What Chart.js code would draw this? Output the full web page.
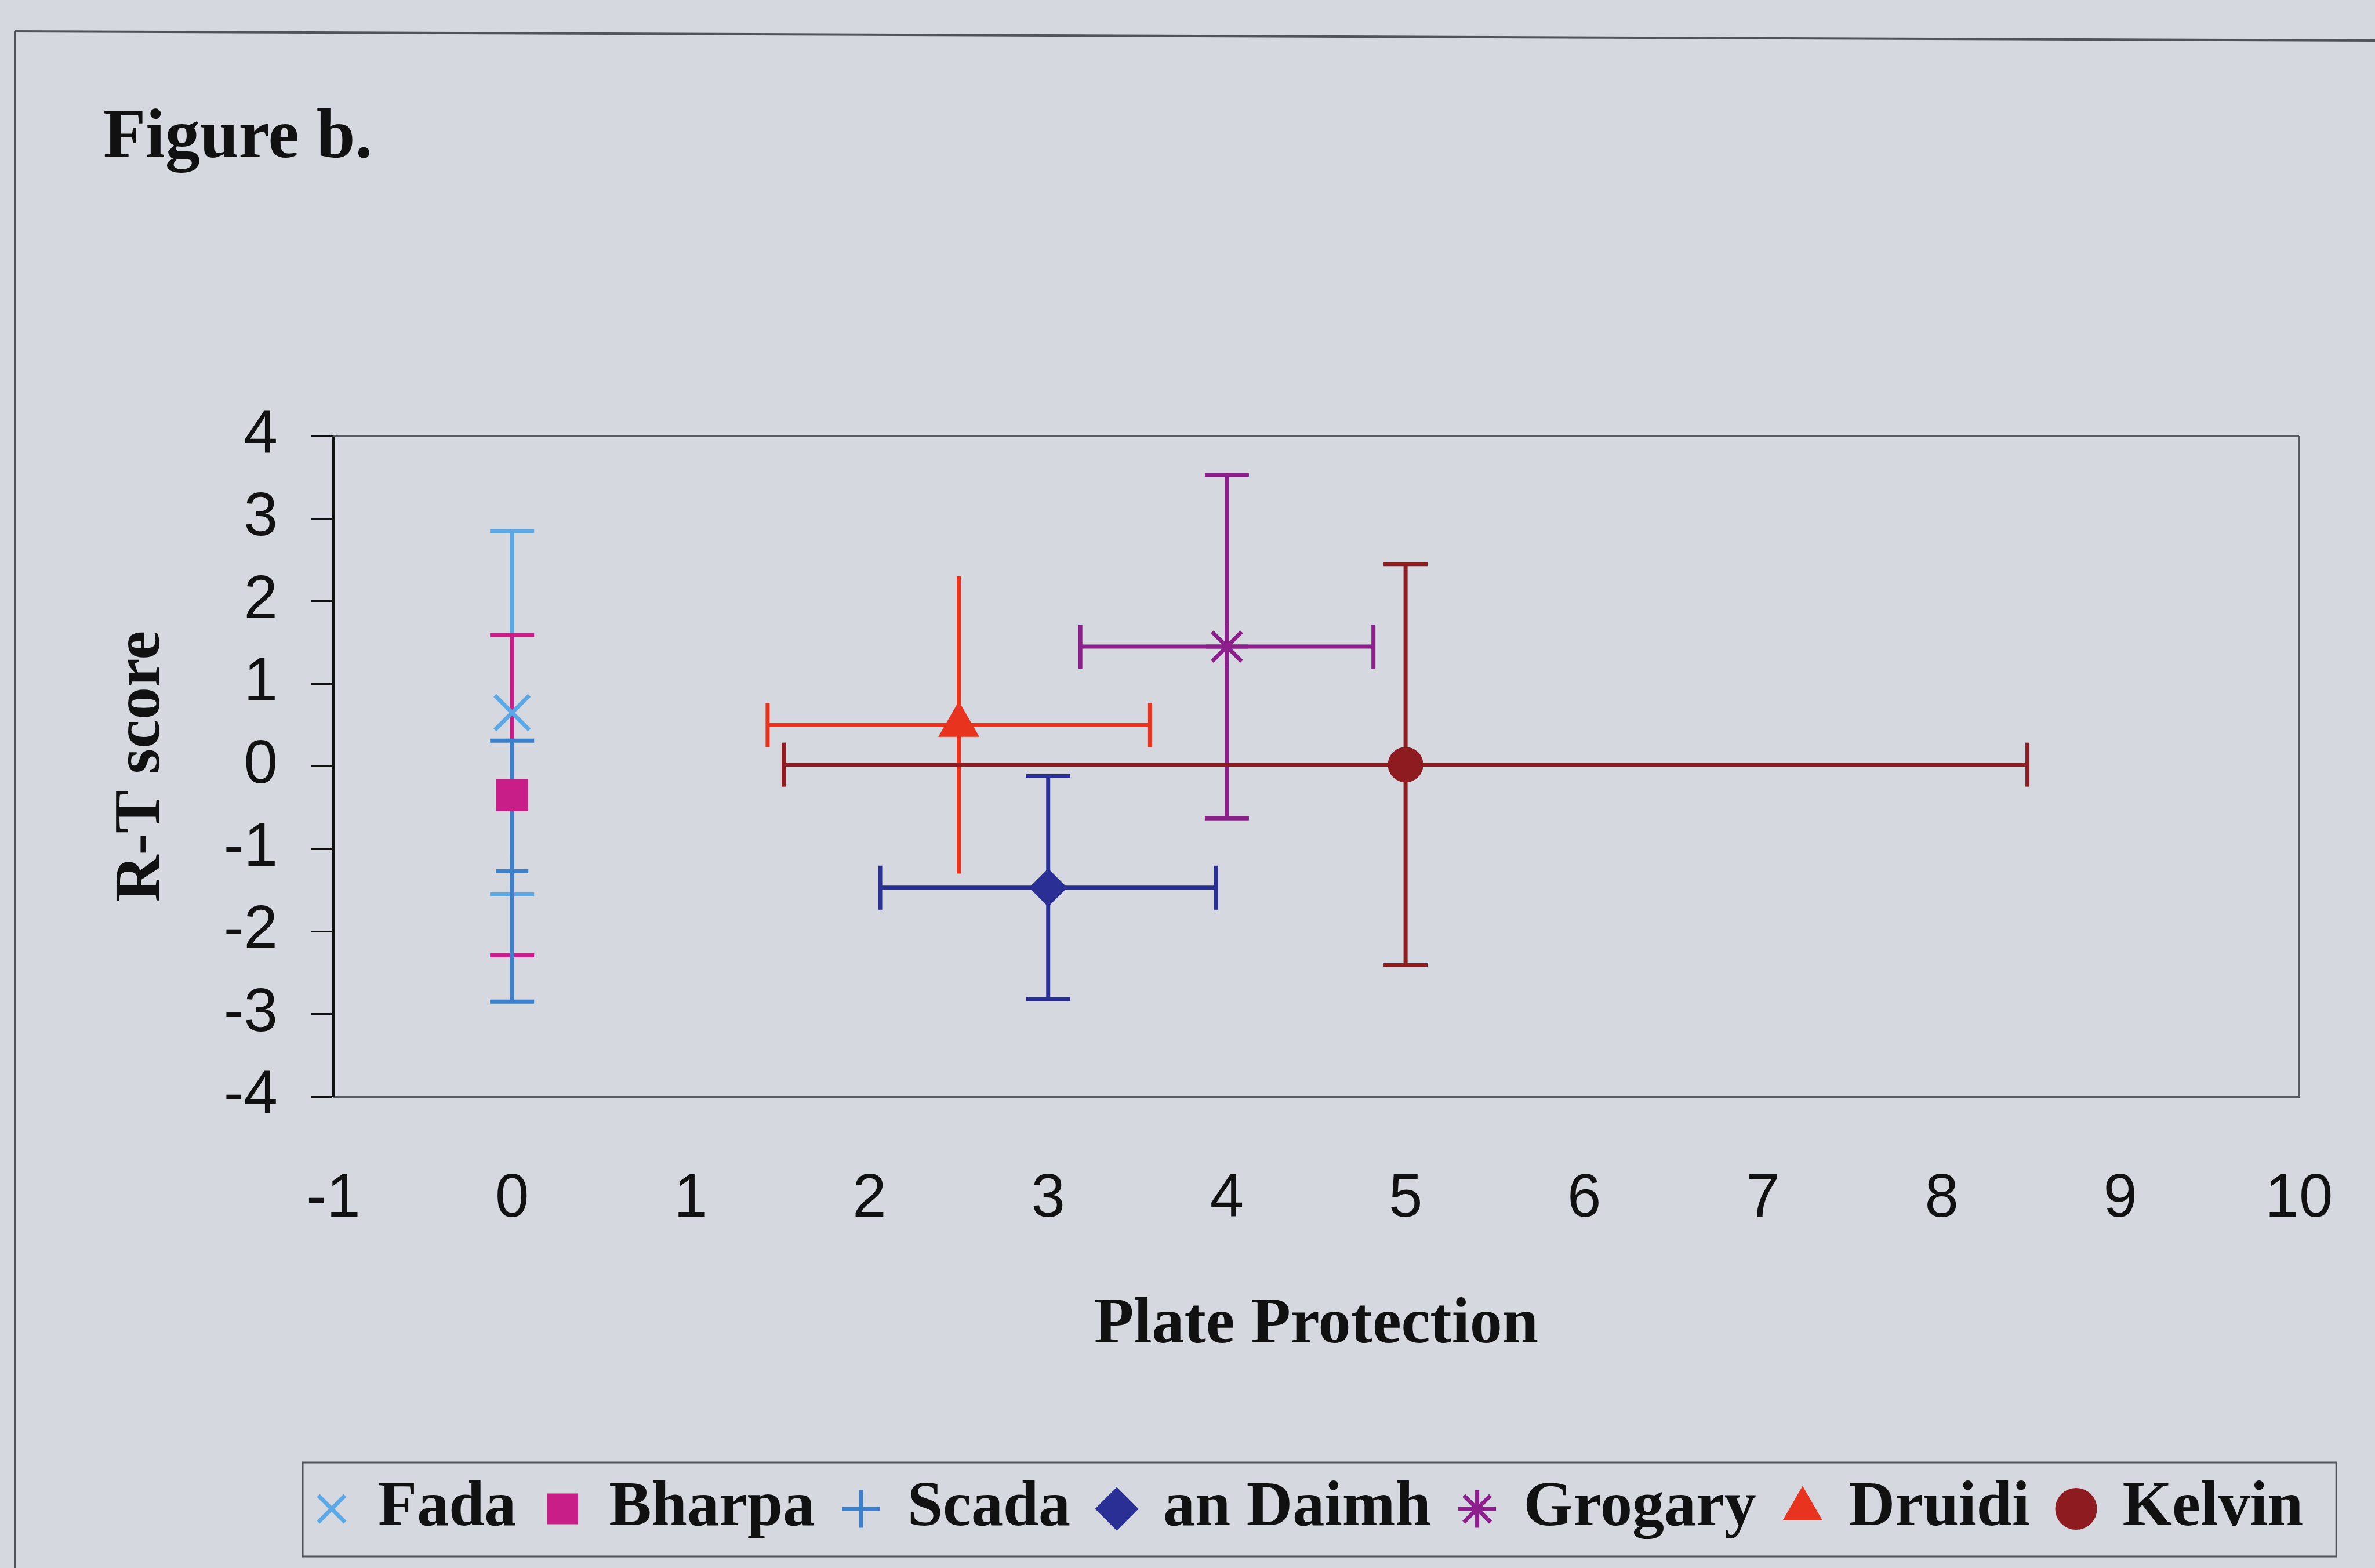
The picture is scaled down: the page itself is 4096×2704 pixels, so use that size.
<!doctype html>
<html>
<head>
    <title>Figure b.</title>
    <script src="https://cdn.jsdelivr.net/npm/chart.js@4.4.0/dist/chart.umd.min.js"></script>
    <style>
    html, body { margin: 0; padding: 0; background: #d5d8df; }
    #holder { position: relative; width: 4096px; height: 2704px; overflow: hidden; }
    canvas { display: block; }
    </style>
</head>
<body>
<div id="holder">
    <canvas id="chart-area" width="4096" height="2704"></canvas>
</div>
<script>
    // data
    var names   = ["Fada", "Bharpa", "Scada", "an Daimh", "Grogary", "Druidi", "Kelvin"];
    var plateX  = [0, 0, 0, 3, 4, 2.5, 5];
    var rtScore = [0.65, -0.35, -1.27, -1.47, 1.45, 0.5, 0.02];
    var xErr    = [0, 0, 0, 0.94, 0.82, 1.07, 3.48];
    var yErr    = [2.2, 1.94, 1.58, 1.35, 2.08, 1.8, 2.43];
    var xRange  = [-1, 10];
    var yRange  = [-4, 4];

    var colors = ['#5aa9e6', '#c81e88', '#3d7fc9', '#2a2f96', '#8c1f8c', '#e8331f', '#8e1b1f'];
    var styles = ['crossRot', 'rect', 'cross', 'rectRot', 'star', 'triangle', 'circle'];
    var radii  = [42, 34, 28, 28, 36, 34, 27];
    var yCaps  = [true, true, true, true, true, false, true];

    var serif = "'Liberation Serif', 'Times New Roman', serif";
    var sans = "'Liberation Sans', Arial, sans-serif";

    var datasets = names.map(function(n, i) {
        return {
            label: n,
            data: [{x: plateX[i], y: rtScore[i]}],
            pointStyle: styles[i],
            pointRadius: radii[i],
            pointHoverRadius: radii[i],
            backgroundColor: colors[i],
            borderColor: colors[i],
            borderWidth: 7,
            yCaps: yCaps[i]
        };
    });

    function seg(ctx, x1, y1, x2, y2) {
        ctx.beginPath();
        ctx.moveTo(x1, y1);
        ctx.lineTo(x2, y2);
        ctx.stroke();
    }

    // plot frame + error bars, drawn under the markers
    var errorBars = {
        id: 'errorBars',
        beforeDatasetsDraw: function(chart) {
            var ctx = chart.ctx, xs = chart.scales.x, ys = chart.scales.y, a = chart.chartArea;
            var cap = 38;
            ctx.save();
            ctx.strokeStyle = '#555a60';
            ctx.lineWidth = 3;
            seg(ctx, a.left, a.top, a.right, a.top);
            seg(ctx, a.right, a.top, a.right, a.bottom);
            ctx.lineWidth = 7;
            ctx.lineCap = 'butt';
            chart.data.datasets.forEach(function(ds, i) {
                var px = xs.getPixelForValue(plateX[i]);
                var py = ys.getPixelForValue(rtScore[i]);
                ctx.strokeStyle = ds.borderColor;
                if (xErr[i]) {
                    var l = xs.getPixelForValue(plateX[i] - xErr[i]);
                    var r = xs.getPixelForValue(plateX[i] + xErr[i]);
                    seg(ctx, l, py, r, py);
                    seg(ctx, l, py - cap, l, py + cap);
                    seg(ctx, r, py - cap, r, py + cap);
                }
                if (yErr[i]) {
                    var t = ys.getPixelForValue(rtScore[i] + yErr[i]);
                    var b = ys.getPixelForValue(rtScore[i] - yErr[i]);
                    seg(ctx, px, t, px, b);
                    if (ds.yCaps) {
                        seg(ctx, px - cap, t, px + cap, t);
                        seg(ctx, px - cap, b, px + cap, b);
                    }
                }
            });
            ctx.restore();
        }
    };

    // page frame and the box round the legend
    var frames = {
        id: 'frames',
        afterLayout: function(chart) {
            chart.legend.left = 492;
            chart.legend.right = 4096;
        },
        afterDraw: function(chart) {
            var ctx = chart.ctx;
            ctx.save();
            ctx.strokeStyle = '#50545a';
            ctx.lineWidth = 4;
            seg(ctx, 26, 54, 4096, 70);
            seg(ctx, 26, 54, 26, 2704);
            var boxes = chart.legend.legendHitBoxes;
            if (boxes && boxes.length) {
                var first = boxes[0], last = boxes[boxes.length - 1];
                var cy = first.top + first.height / 2;
                ctx.lineWidth = 3;
                ctx.strokeRect(first.left - 25, cy - 80, last.left + last.width + 57 - (first.left - 25), 162);
            }
            ctx.restore();
        }
    };

    var config = {
        type: 'scatter',
        data: { datasets: datasets },
        options: {
            responsive: false,
            animation: false,
            layout: { padding: { left: 178, right: 131, top: 0, bottom: 37 } },
            scales: {
                x: {
                    type: 'linear',
                    min: xRange[0],
                    max: xRange[1],
                    afterFit: function(scale) { scale.height = 601; },
                    ticks: { stepSize: 1, autoSkip: false, maxRotation: 0, padding: 0, color: '#111', font: { family: sans, size: 105 } },
                    grid: { display: true, drawOnChartArea: false, drawTicks: true, tickLength: 115, tickColor: 'rgba(0,0,0,0)', color: 'rgba(0,0,0,0)' },
                    border: { display: true, color: '#555a60', width: 3 },
                    title: {
                        display: true,
                        text: 'Plate Protection',
                        color: '#111',
                        font: { family: serif, size: 112, weight: 'bold' },
                        padding: { top: 0, bottom: 139 }
                    }
                },
                y: {
                    type: 'linear',
                    min: yRange[0],
                    max: yRange[1],
                    afterFit: function(scale) { scale.width = 397; },
                    ticks: { stepSize: 1, autoSkip: false, padding: 57, color: '#111', font: { family: sans, size: 105 } },
                    grid: { display: true, drawOnChartArea: false, drawTicks: true, tickLength: 39, tickWidth: 3, tickColor: '#111', color: '#111' },
                    border: { display: true, color: '#111', width: 5 },
                    title: {
                        display: true,
                        text: 'R-T score',
                        color: '#111',
                        font: { family: serif, size: 112, weight: 'bold' },
                        padding: { top: 0, bottom: 0 }
                    }
                }
            },
            plugins: {
                title: {
                    display: true,
                    text: 'Figure b.',
                    align: 'start',
                    color: '#111',
                    font: { family: serif, size: 120, weight: 'bold' },
                    padding: { top: 168, bottom: 440 }
                },
                legend: {
                    display: true,
                    position: 'bottom',
                    align: 'start',
                    labels: {
                        usePointStyle: true,
                        boxWidth: 50,
                        boxHeight: 46,
                        padding: 55,
                        color: '#111',
                        font: { family: serif, size: 110, weight: 'bold' }
                    }
                },
                tooltip: { enabled: false }
            }
        },
        plugins: [errorBars, frames]
    };

    window.onload = function() {
        var ctx = document.getElementById('chart-area').getContext('2d');
        window.myScatter = new Chart(ctx, config);
    };
</script>
</body>
</html>
